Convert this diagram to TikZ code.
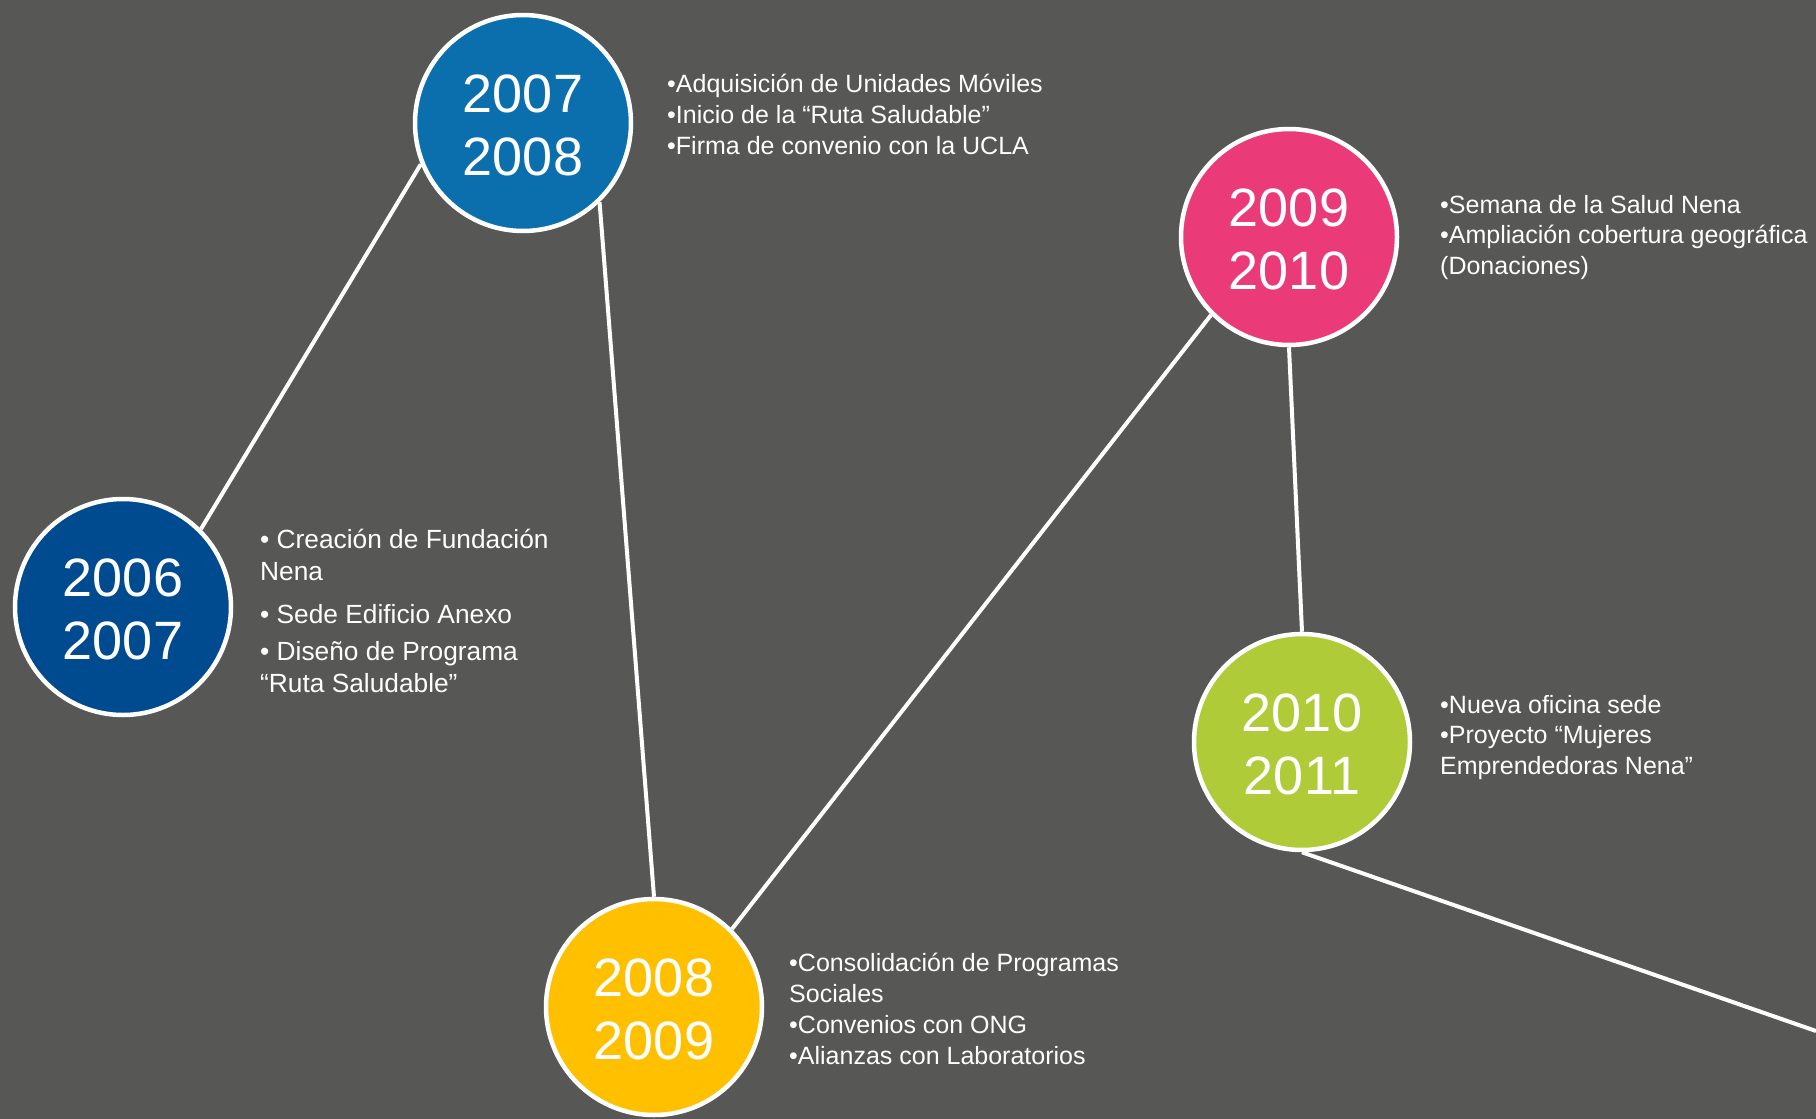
\documentclass[tikz,border=0pt]{standalone}
\usepackage{fontspec}
\setmainfont{Liberation Sans}
\definecolor{bg}{HTML}{575756}
\definecolor{cA}{HTML}{004A8F}
\definecolor{cB}{HTML}{0B6FAE}
\definecolor{cC}{HTML}{FFC000}
\definecolor{cD}{HTML}{EA3A78}
\definecolor{cE}{HTML}{AFCB38}
\begin{document}
\begin{tikzpicture}[x=1pt,y=-1pt,
  yearnode/.style={circle, draw=white, line width=4.5pt, minimum size=216pt, inner sep=0pt, text=white, align=center, font=\fontsize{54}{62.5}\selectfont},
  info/.style={anchor=north west, inner sep=0pt, text=white, align=left, font=\fontsize{25}{30.7}\selectfont},
  infobig/.style={info, font=\fontsize{26.3}{32}\selectfont},
  link/.style={draw=white, line width=4pt}]
\fill[bg] (0,0) rectangle (1816,1119);
\useasboundingbox (0,0) rectangle (1816,1119);

\node[yearnode, fill=cA] (c1) at (123,607) {\rule{0pt}{43pt}2006\\2007};
\node[yearnode, fill=cB] (c2) at (523,123) {\rule{0pt}{43pt}2007\\2008};
\node[yearnode, fill=cC] (c3) at (654,1007) {\rule{0pt}{43pt}2008\\2009};
\node[yearnode, fill=cD] (c4) at (1289,237) {\rule{0pt}{43pt}2009\\2010};
\node[yearnode, fill=cE] (c5) at (1302,742) {\rule{0pt}{43pt}2010\\2011};
\coordinate (end) at (1816,1031);

\draw[link] (c1.45) -- (c2.202.5);
\draw[link] (c2.314) -- (c3.90);
\draw[link] (c3.45) -- (c4.225);
\draw[link] (c4.270) -- (c5.90);
\draw[link] (c5.270) -- (end);

\node[infobig] (t1) at (260,526) {\rule{0pt}{22pt}• Creación de Fundación\\Nena\\[11pt]• Sede Edificio Anexo\\[5pt]• Diseño de Programa\\“Ruta Saludable”};
\node[info] (t2) at (667,72.7) {\rule{0pt}{20pt}•Adquisición de Unidades Móviles\\•Inicio de la “Ruta Saludable”\\•Firma de convenio con la UCLA};
\node[info] (t3) at (789,951.7) {\rule{0pt}{20pt}•Consolidación de Programas\\Sociales\\•Convenios con ONG\\•Alianzas con Laboratorios};
\node[info] (t4) at (1440,193) {\rule{0pt}{20pt}•Semana de la Salud Nena\\•Ampliación cobertura geográfica\\(Donaciones)};
\node[info] (t5) at (1440,693) {\rule{0pt}{20pt}•Nueva oficina sede\\•Proyecto “Mujeres\\Emprendedoras Nena”};
\end{tikzpicture}
\end{document}
